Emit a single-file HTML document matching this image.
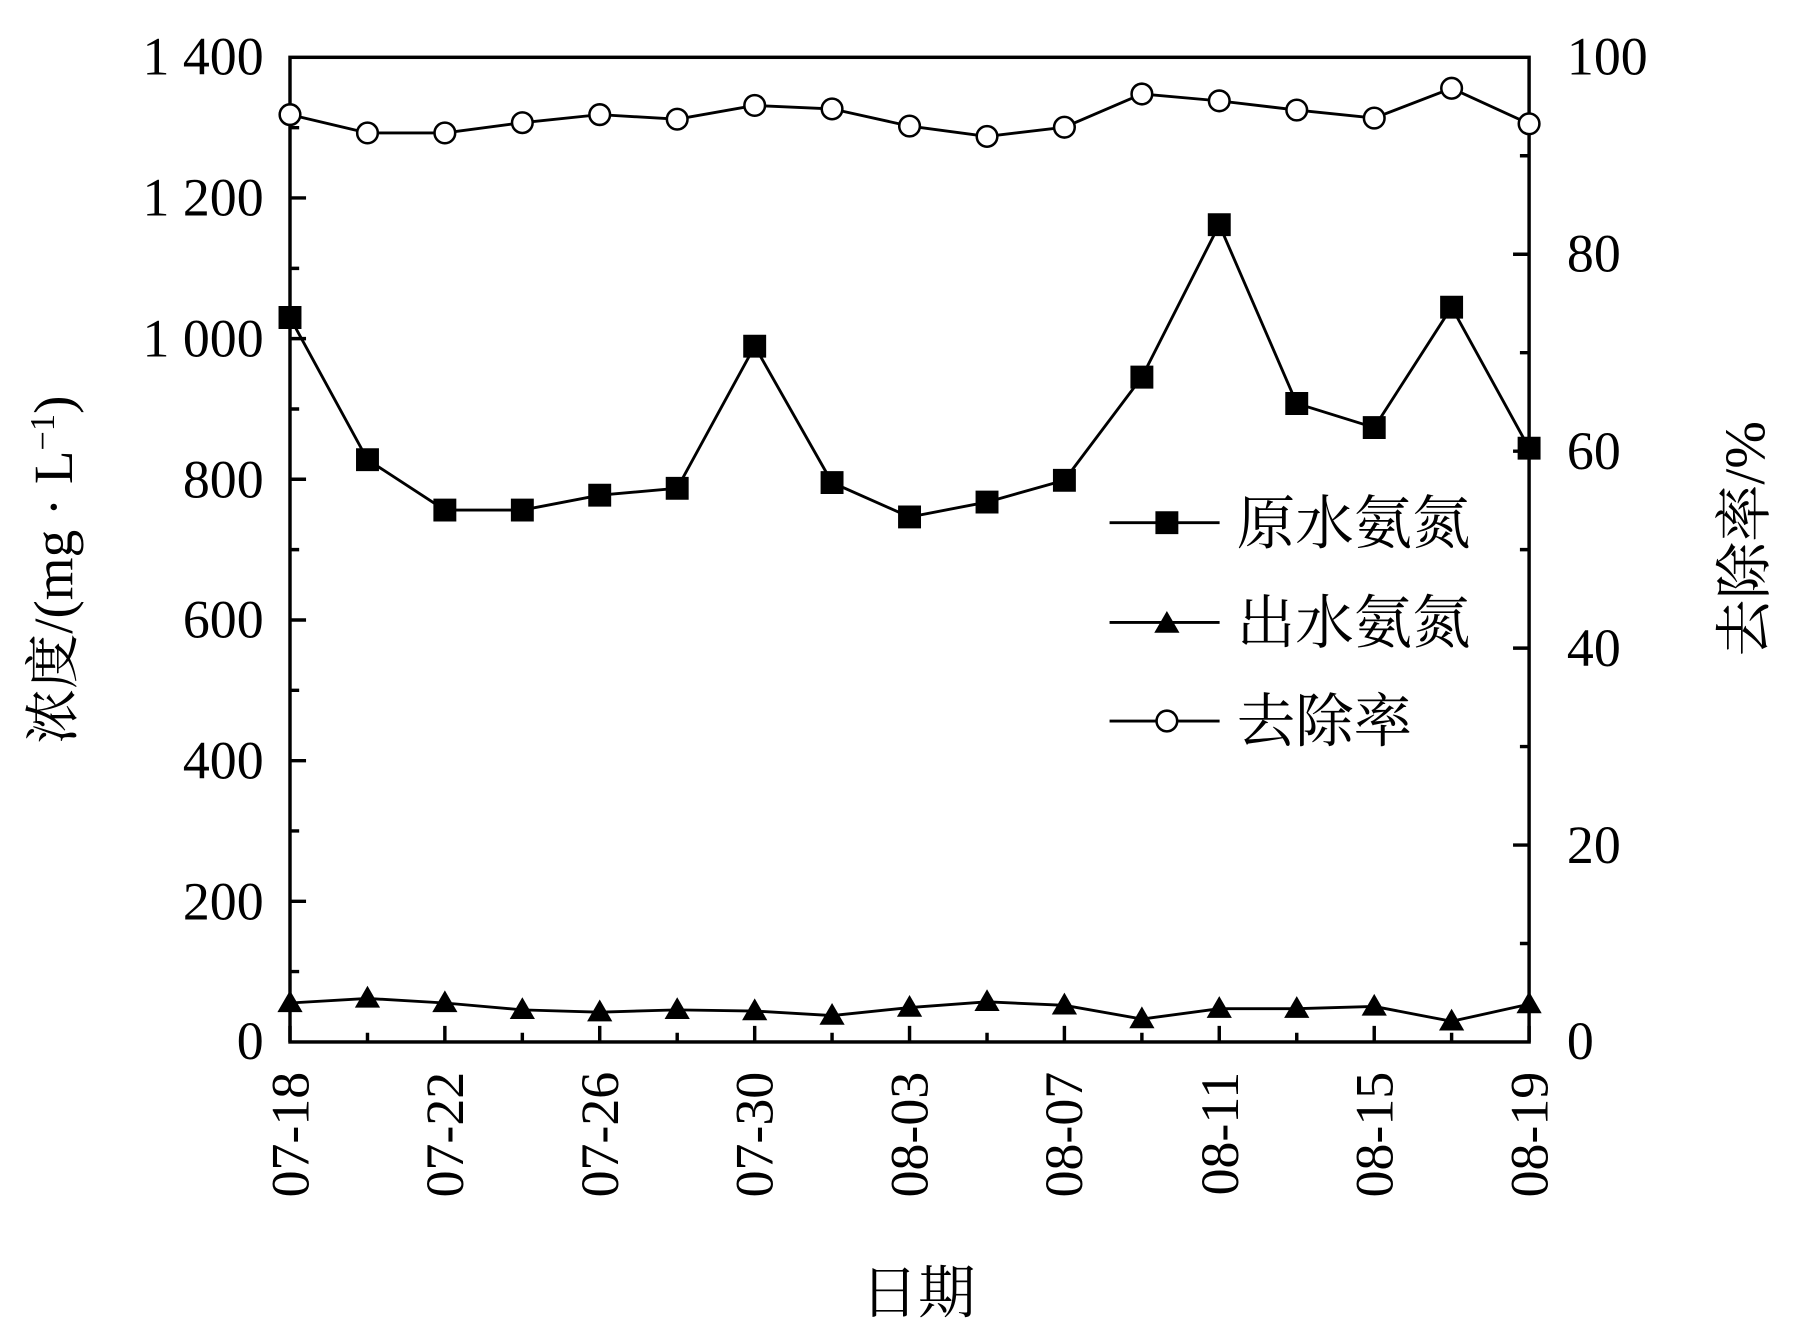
<!DOCTYPE html>
<html><head><meta charset="utf-8"><style>body{margin:0;background:#fff}svg{display:block}</style></head><body>
<svg width="1798" height="1340" viewBox="-1 0 1568.6 1169" preserveAspectRatio="none" xmlns="http://www.w3.org/2000/svg" font-family="'Liberation Serif','Noto Serif CJK SC',serif">
<g stroke="#000" stroke-width="3" fill="none">
<rect x="252" y="50" width="1081" height="859"/>
<path d="M252,786.3h14M252,663.6h14M252,540.9h14M252,418.1h14M252,295.4h14M252,172.7h14M252,847.6h8M252,724.9h8M252,602.2h8M252,479.5h8M252,356.8h8M252,234.1h8M252,111.4h8"/>
<path d="M1333,737.2h-14M1333,565.4h-14M1333,393.6h-14M1333,221.8h-14M1333,823.1h-8M1333,651.3h-8M1333,479.5h-8M1333,307.7h-8M1333,135.9h-8"/>
<path d="M252,909v-14M319.6,909v-8M387.1,909v-14M454.7,909v-8M522.2,909v-14M589.8,909v-8M657.4,909v-14M724.9,909v-8M792.5,909v-14M860.1,909v-8M927.6,909v-14M995.2,909v-8M1062.7,909v-14M1130.3,909v-8M1197.9,909v-14M1265.4,909v-8M1333,909v-14"/>
</g>
<g font-size="47" text-anchor="end">
<text x="229" y="924">0</text><text x="229" y="802">200</text><text x="229" y="679">400</text><text x="229" y="556">600</text><text x="229" y="434">800</text><text x="229" y="311">1 000</text><text x="229" y="188">1 200</text><text x="229" y="65">1 400</text>
</g>
<g font-size="47">
<text x="1366" y="924">0</text><text x="1366" y="753">20</text><text x="1366" y="581">40</text><text x="1366" y="409">60</text><text x="1366" y="237">80</text><text x="1366" y="65">100</text>
</g>
<g font-size="47" text-anchor="end">
<text transform="translate(268,935) rotate(-90)">07-18</text>
<text transform="translate(403,935) rotate(-90)">07-22</text>
<text transform="translate(538,935) rotate(-90)">07-26</text>
<text transform="translate(673,935) rotate(-90)">07-30</text>
<text transform="translate(808,935) rotate(-90)">08-03</text>
<text transform="translate(943,935) rotate(-90)">08-07</text>
<text transform="translate(1079,935) rotate(-90)">08-11</text>
<text transform="translate(1214,935) rotate(-90)">08-15</text>
<text transform="translate(1349,935) rotate(-90)">08-19</text>
</g>
<text x="800" y="1145" font-size="50" text-anchor="middle">日期</text>
<text transform="translate(62,497) rotate(-90)" font-size="48" text-anchor="middle">浓度/(mg · L<tspan dy="-16" font-size="30">−1</tspan><tspan dy="16">)</tspan></text>
<text transform="translate(1538,470) rotate(-90)" font-size="50" text-anchor="middle">去除率/%</text>
<g stroke="#000" stroke-width="2.5" fill="none">
<polyline points="252,277 319.6,401 387.1,445 454.7,445 522.2,432 589.8,426 657.4,302 724.9,421 792.5,451 860.1,438 927.6,419 995.2,329 1062.7,196 1130.3,352 1197.9,373 1265.4,268 1333,391"/>
<polyline points="252,875 319.6,871 387.1,875 454.7,881 522.2,883 589.8,881 657.4,882 724.9,886 792.5,879 860.1,874 927.6,877 995.2,889 1062.7,880 1130.3,880 1197.9,878 1265.4,891 1333,876"/>
<polyline points="252,100 319.6,116 387.1,116 454.7,107 522.2,100 589.8,104 657.4,92 724.9,95 792.5,110 860.1,119 927.6,111 995.2,82 1062.7,88 1130.3,96 1197.9,103 1265.4,77 1333,108"/>
<path d="M967,456h96M967,543h96M967,629h96"/>
</g>
<g fill="#000">
<path d="M242,267h20v20h-20zM309.6,391h20v20h-20zM377.1,435h20v20h-20zM444.7,435h20v20h-20zM512.2,422h20v20h-20zM579.8,416h20v20h-20zM647.4,292h20v20h-20zM714.9,411h20v20h-20zM782.5,441h20v20h-20zM850.1,428h20v20h-20zM917.6,409h20v20h-20zM985.2,319h20v20h-20zM1052.7,186h20v20h-20zM1120.3,342h20v20h-20zM1187.9,363h20v20h-20zM1255.4,258h20v20h-20zM1323,381h20v20h-20zM1007,446h20v20h-20z"/>
<path d="M252,864l-11,19h22zM319.6,860l-11,19h22zM387.1,864l-11,19h22zM454.7,870l-11,19h22zM522.2,872l-11,19h22zM589.8,870l-11,19h22zM657.4,871l-11,19h22zM724.9,875l-11,19h22zM792.5,868l-11,19h22zM860.1,863l-11,19h22zM927.6,866l-11,19h22zM995.2,878l-11,19h22zM1062.7,869l-11,19h22zM1130.3,869l-11,19h22zM1197.9,867l-11,19h22zM1265.4,880l-11,19h22zM1333,865l-11,19h22zM1017,533l-11,19h22z"/>
</g>
<g fill="#fff" stroke="#000" stroke-width="2.2">
<circle cx="252" cy="100" r="9"/><circle cx="319.6" cy="116" r="9"/><circle cx="387.1" cy="116" r="9"/><circle cx="454.7" cy="107" r="9"/><circle cx="522.2" cy="100" r="9"/><circle cx="589.8" cy="104" r="9"/><circle cx="657.4" cy="92" r="9"/><circle cx="724.9" cy="95" r="9"/><circle cx="792.5" cy="110" r="9"/><circle cx="860.1" cy="119" r="9"/><circle cx="927.6" cy="111" r="9"/><circle cx="995.2" cy="82" r="9"/><circle cx="1062.7" cy="88" r="9"/><circle cx="1130.3" cy="96" r="9"/><circle cx="1197.9" cy="103" r="9"/><circle cx="1265.4" cy="77" r="9"/><circle cx="1333" cy="108" r="9"/><circle cx="1017" cy="629" r="9"/>
</g>
<g font-size="51">
<text x="1078" y="474">原水氨氮</text><text x="1078" y="561">出水氨氮</text><text x="1078" y="647">去除率</text>
</g>
</svg>
</body></html>
